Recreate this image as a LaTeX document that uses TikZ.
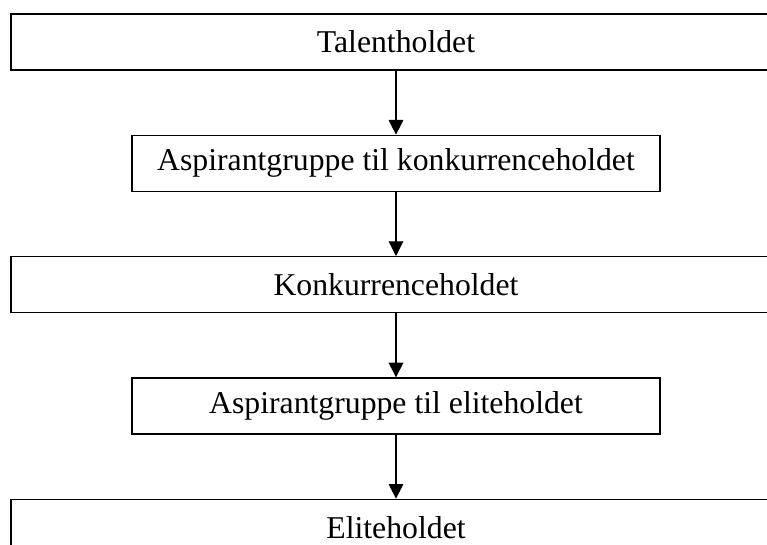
\documentclass[tikz,border=0pt]{standalone}
\usepackage{fontspec}
\setmainfont{Liberation Serif}
\usepackage{tikz}
\usetikzlibrary{arrows.meta, positioning}
\tikzstyle{widebox} = [rectangle, minimum width=577.5pt, minimum height=42pt, text centered, draw=black, line width=1pt, fill=white]
\tikzstyle{narrowbox} = [rectangle, minimum width=396pt, minimum height=42pt, text centered, draw=black, line width=1pt, fill=white]
\begin{document}
\begin{tikzpicture}[x=0.75pt, y=-0.75pt, node distance=48pt, font=\fontsize{23.8}{28}\selectfont]
\clip (0,0) rectangle (767,545);
\fill[white] (0,0) rectangle (767,545);
\node (t1) [widebox] at (396,42) {Talentholdet};
\node (t2) [narrowbox, below=of t1] {Aspirantgruppe til konkurrenceholdet};
\node (t3) [widebox, below=of t2] {Konkurrenceholdet};
\node (t4) [narrowbox, below=of t3] {Aspirantgruppe til eliteholdet};
\node (t5) [widebox, below=of t4] {Eliteholdet};
\draw[-{Triangle[width=11pt, length=11pt]}, line width=0.8pt] (t1) -- (t2);
\draw[-{Triangle[width=11pt, length=11pt]}, line width=0.8pt] (t2) -- (t3);
\draw[-{Triangle[width=11pt, length=11pt]}, line width=0.8pt] (t3) -- (t4);
\draw[-{Triangle[width=11pt, length=11pt]}, line width=0.8pt] (t4) -- (t5);
\end{tikzpicture}
\end{document}
